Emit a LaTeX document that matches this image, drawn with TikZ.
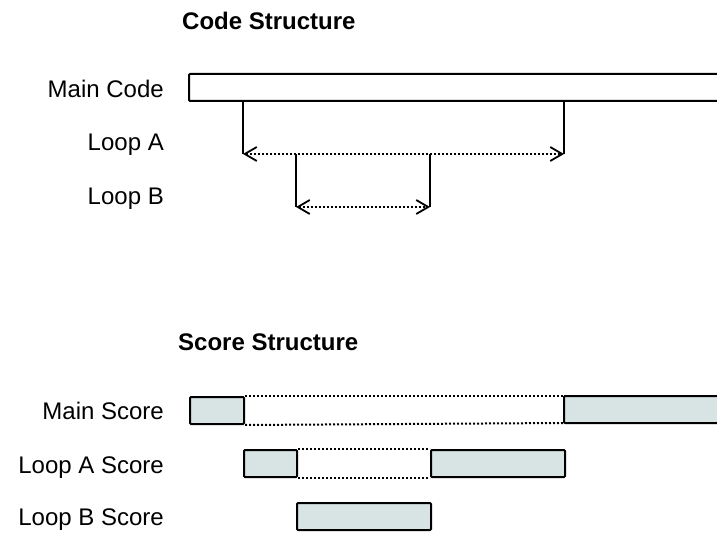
\documentclass[tikz,border=0pt]{standalone}
\usepackage{fontspec}
\setmainfont{Liberation Sans}
\usetikzlibrary{arrows.meta}
\definecolor{scorefill}{RGB}{216,228,228}

\begin{document}
\begin{tikzpicture}[x=1pt,y=-1pt,
    >={Straight Barb[length=12pt,width=14pt,line width=1.8pt]},
    lbl/.style={anchor=base east,inner sep=0pt,font=\fontsize{24}{28}\selectfont},
    ttl/.style={anchor=base west,inner sep=0pt,font=\fontsize{24}{28}\selectfont\bfseries},
    bar/.style={line width=2pt,rounded corners=1pt},
    stem/.style={line width=2pt},
    looparrow/.style={<->,line width=2pt,dash pattern=on 2pt off 2pt},
    scorebox/.style={draw,fill=scorefill,line width=2pt,rounded corners=1pt,
        inner sep=0pt,minimum height=27pt,anchor=north west},
    gap/.style={line width=2pt,dash pattern=on 2pt off 2pt}]
    \useasboundingbox (0,0) rectangle (717,534);
    % code structure
    \node[ttl] (codetitle) at (182,30) {Code Structure};
    \node[lbl] (maincode) at (164,98) {Main Code};
    \node[lbl] (loopa) at (164,151) {Loop A};
    \node[lbl] (loopb) at (164,205) {Loop B};
    \draw[bar] (717,74) -- (189,74) -- (189,101) -- (717,101);
    \coordinate (atl) at (243,101);
    \coordinate (atr) at (564,101);
    \coordinate (al) at (243,154);
    \coordinate (ar) at (564,154);
    \coordinate (btl) at (296,154);
    \coordinate (btr) at (430,154);
    \coordinate (bl) at (296,207);
    \coordinate (br) at (430,207);
    \draw[stem] (atl) -- (al);
    \draw[stem] (atr) -- (ar);
    \draw[looparrow] (al) -- (ar);
    \draw[stem] (btl) -- (bl);
    \draw[stem] (btr) -- (br);
    \draw[looparrow] (bl) -- (br);
    % score structure
    \node[ttl] (scoretitle) at (178,350) {Score Structure};
    \node[lbl] (mainscore) at (164,419) {Main Score};
    \node[lbl] (loopascore) at (164,473) {Loop A Score};
    \node[lbl] (loopbscore) at (164,525) {Loop B Score};
    \node[scorebox,minimum width=54pt] (ms1) at (189,396) {};
    \fill[scorefill] (564,396) rectangle (717,423);
    \draw[bar] (717,396) -- (564,396) coordinate (ms2nw) -- (564,423) coordinate (ms2sw) -- (717,423);
    \draw[gap] (ms1.north east) -- (ms2nw);
    \draw[gap] (ms1.south east) -- (ms2sw);
    \node[scorebox,minimum width=53pt] (as1) at (243,449) {};
    \node[scorebox,minimum width=134pt] (as2) at (430,449) {};
    \draw[gap] (as1.north east) -- (as2.north west);
    \draw[gap] (as1.south east) -- (as2.south west);
    \node[scorebox,minimum width=134pt] (bs1) at (296,502) {};
\end{tikzpicture}
\end{document}
